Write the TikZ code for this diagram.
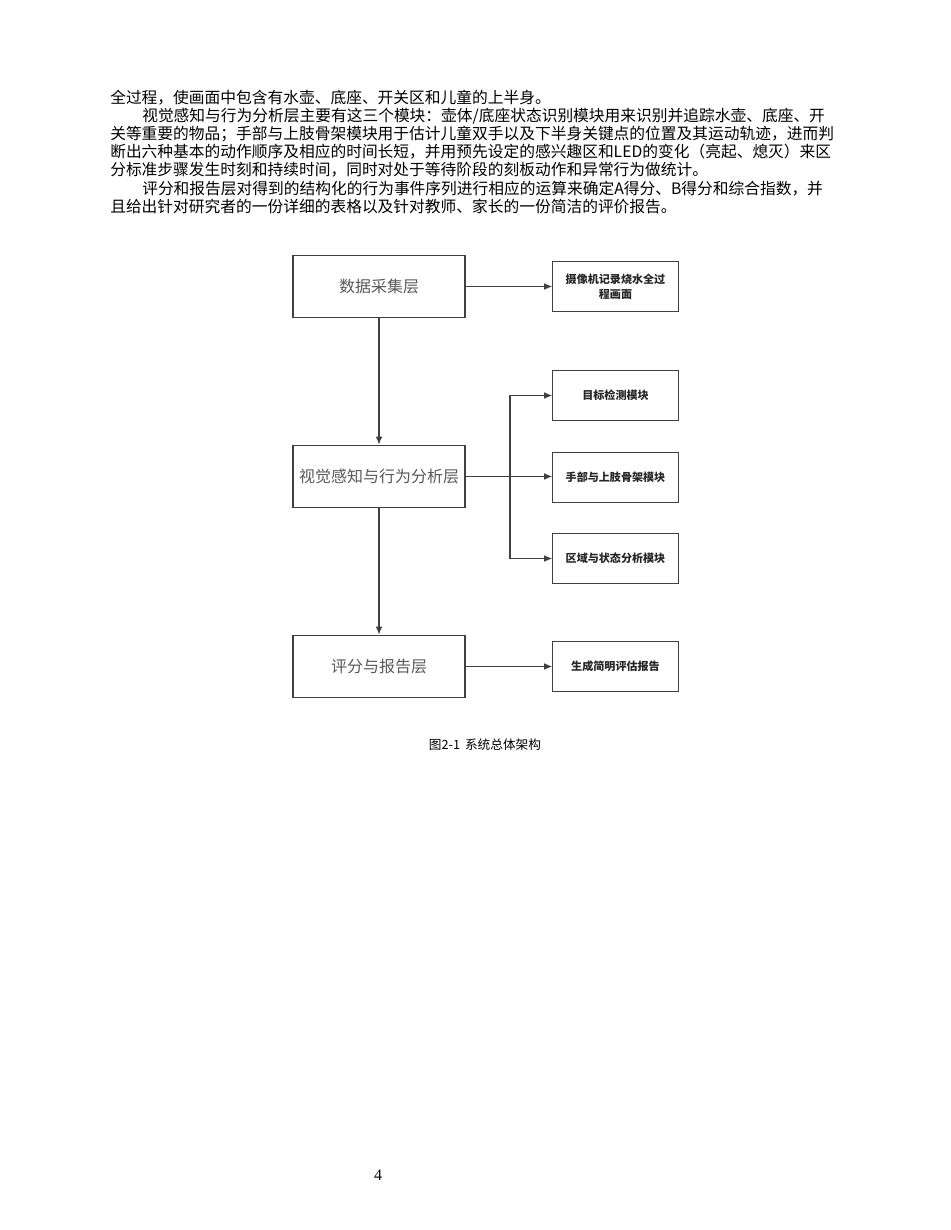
\documentclass[tikz,border=0pt]{standalone}
\usepackage{fontspec}
\setmainfont{Liberation Serif}
\newfontfamily\cjk{Noto Sans CJK SC}
\usetikzlibrary{arrows.meta}
\begin{document}
\begin{tikzpicture}[x=0.75pt,y=-0.75pt,
  big/.style={draw=black!75,line width=0.9pt,minimum width=129pt,minimum height=47pt,inner sep=0pt,font=\cjk\fontsize{12}{14}\selectfont,text=black!65},
  small/.style={draw=black!75,line width=0.9pt,minimum width=94pt,minimum height=38pt,inner sep=0pt,align=center,font=\cjk\bfseries\fontsize{8.3}{11}\selectfont,text=black!85},
  ln/.style={anchor=west,inner sep=0pt,font=\cjk\fontsize{11.8}{13}\selectfont},
  arr/.style={draw=black!75,line width=0.8pt,-{Latex[length=6pt,width=5pt]}}]
\useasboundingbox (0,0) rectangle (950,1230);
\node[ln] (t1) at (110,98) {全过程，使画面中包含有水壶、底座、开关区和儿童的上半身。};
\node[ln] (t2) at (142,116) {视觉感知与行为分析层主要有这三个模块：壶体/底座状态识别模块用来识别并追踪水壶、底座、开};
\node[ln] (t3) at (110,134) {关等重要的物品；手部与上肢骨架模块用于估计儿童双手以及下半身关键点的位置及其运动轨迹，进而判};
\node[ln] (t4) at (110,152) {断出六种基本的动作顺序及相应的时间长短，并用预先设定的感兴趣区和LED的变化（亮起、熄灭）来区};
\node[ln] (t5) at (110,170) {分标准步骤发生时刻和持续时间，同时对处于等待阶段的刻板动作和异常行为做统计。};
\node[ln] (t6) at (142,189) {评分和报告层对得到的结构化的行为事件序列进行相应的运算来确定A得分、B得分和综合指数，并};
\node[ln] (t7) at (110,207) {且给出针对研究者的一份详细的表格以及针对教师、家长的一份简洁的评价报告。};

\node[big] (a) at (379,286.5) {数据采集层};
\node[big] (b) at (379,476.5) {视觉感知与行为分析层};
\node[big] (c) at (379,666.5) {评分与报告层};
\node[small] (s1) at (615.5,286.5) {摄像机记录烧水全过\\程画面};
\node[small] (s2) at (615.5,395.5) {目标检测模块};
\node[small] (s3) at (615.5,477.5) {手部与上肢骨架模块};
\node[small] (s4) at (615.5,558.5) {区域与状态分析模块};
\node[small] (s5) at (615.5,666.5) {生成简明评估报告};
\coordinate (br) at (510,476.5);
\draw[arr] (a) -- (b);
\draw[arr] (b) -- (c);
\draw[arr] (a) -- (s1);
\draw[arr] (c) -- (s5);
\draw[arr] (b.east) -- (s3.west|-b.east);
\draw[arr] (br) |- (s2);
\draw[arr] (br) |- (s4);
\node[inner sep=0pt,font=\cjk\fontsize{9.5}{11}\selectfont] (cap) at (485,745) {图2-1\, 系统总体架构};
\node[inner sep=0pt,font=\fontsize{12}{14}\selectfont] (pg) at (378,1175) {4};
\end{tikzpicture}
\end{document}
